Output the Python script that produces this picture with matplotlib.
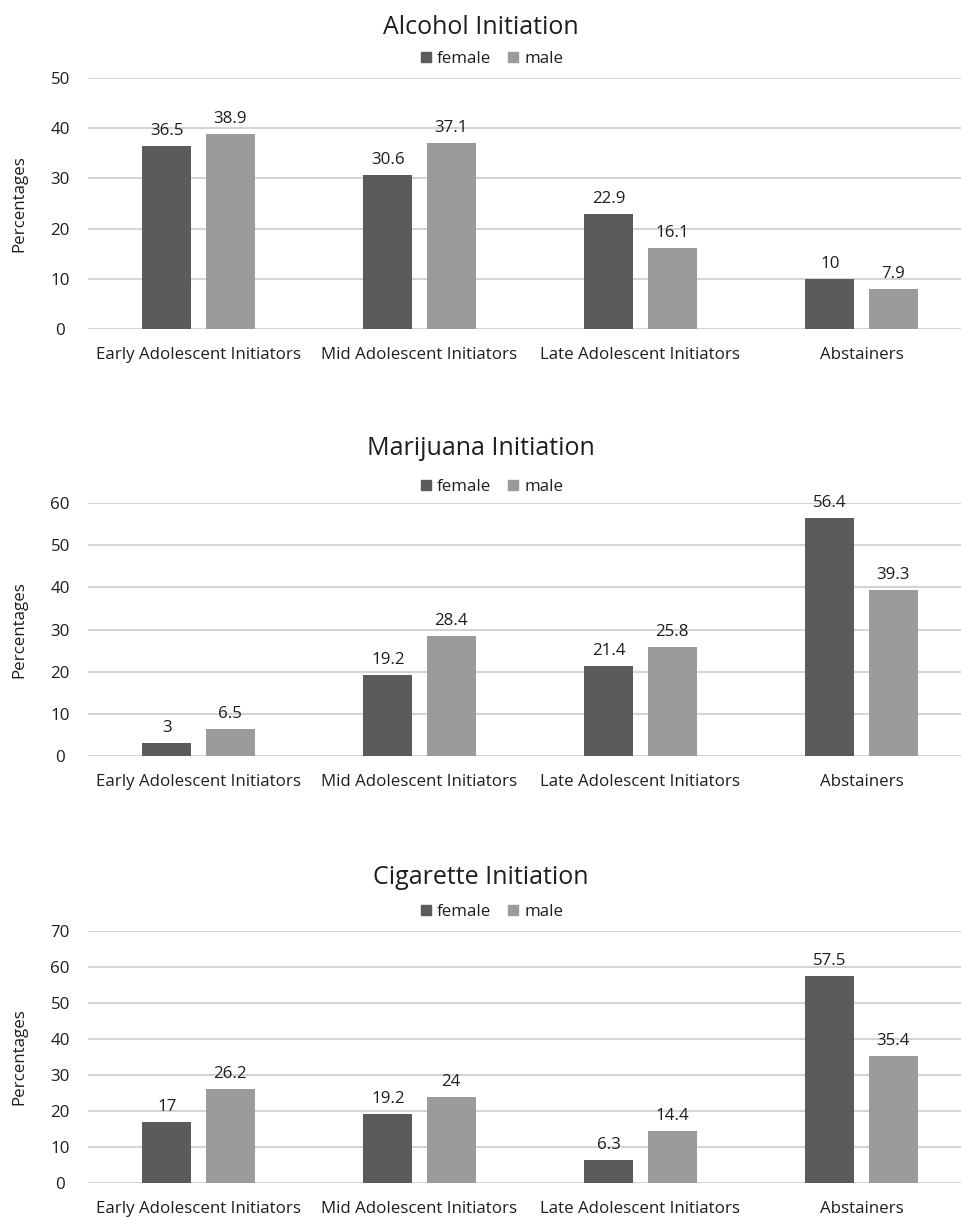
import numpy as np
import matplotlib.pyplot as plt
from matplotlib.patches import Patch

plt.rcParams['font.family'] = ['Open Sans', 'DejaVu Sans']

categories = ['Early Adolescent Initiators', 'Mid Adolescent Initiators',
              'Late Adolescent Initiators', 'Abstainers']

alcohol_female = [36.5, 30.6, 22.9, 10]
alcohol_male = [38.9, 37.1, 16.1, 7.9]
marijuana_female = [3, 19.2, 21.4, 56.4]
marijuana_male = [6.5, 28.4, 25.8, 39.3]
cigarette_female = [17, 19.2, 6.3, 57.5]
cigarette_male = [26.2, 24, 14.4, 35.4]

titles = ['Alcohol Initiation', 'Marijuana Initiation', 'Cigarette Initiation']
ymax = [50, 60, 70]

c_female = '#5b5b5b'
c_male = '#9b9b9b'
c_grid = '#d4d4d4'
c_text = '#1e1e1e'

W, H = 962, 1217
fig = plt.figure(figsize=(W / 100, H / 100), dpi=100)

# pixel boxes: (top of axes, bottom of axes, title y, legend y)
boxes = [(78, 329, 28, 59), (503, 756, 449, 487), (931, 1183, 878, 912)]
data = [(alcohol_female, alcohol_male),
        (marijuana_female, marijuana_male),
        (cigarette_female, cigarette_male)]

x = np.arange(len(categories))
bw = 0.222
off = 0.143
left_px, right_px = 88, 972
fs = 12.2

for i, ((top, bot, ty, ly), (fem, mal)) in enumerate(zip(boxes, data)):
    ax = fig.add_axes([left_px / W, 1 - bot / H, (right_px - left_px) / W, (bot - top) / H])
    b1 = ax.bar(x - off, fem, bw, color=c_female, zorder=3)
    b2 = ax.bar(x + off, mal, bw, color=c_male, zorder=3)
    for bars, vals in ((b1, fem), (b2, mal)):
        for b, v in zip(bars, vals):
            ax.annotate(f'{v:g}', (b.get_x() + b.get_width() / 2, v),
                        xytext=(0, 5), textcoords='offset points',
                        ha='center', va='bottom', fontsize=fs, color=c_text)
    ax.set_xlim(-0.5, 3.5)
    ax.set_ylim(0, ymax[i])
    ax.set_yticks(np.arange(0, ymax[i] + 1, 10))
    ax.set_xticks(x)
    ax.set_xticklabels(categories)
    ax.yaxis.grid(True, color=c_grid, linewidth=1.5, zorder=0)
    ax.set_axisbelow(True)
    for s in ax.spines.values():
        s.set_visible(False)
    ax.tick_params(length=0, labelsize=fs, labelcolor=c_text)
    ax.tick_params(axis='y', pad=20)
    ax.tick_params(axis='x', pad=13)
    for lab in ax.get_yticklabels():
        lab.set_horizontalalignment('center')
    ax.set_ylabel('Percentages', fontsize=fs, color=c_text)
    ax.yaxis.set_label_coords(-61 / (right_px - left_px), 0.5)

    fig.text(481 / W, 1 - ty / H, titles[i], ha='center', va='center',
             fontsize=18, color=c_text)
    handles = [Patch(color=c_female, label='female'), Patch(color=c_male, label='male')]
    fig.legend(handles=handles, loc='center', bbox_to_anchor=(492 / W, 1 - ly / H),
               ncol=2, frameon=False, fontsize=fs, handlelength=0.6,
               handleheight=0.6, handletextpad=0.35, columnspacing=1.0,
               labelcolor=c_text)

fig.savefig('out.png', dpi=100)
